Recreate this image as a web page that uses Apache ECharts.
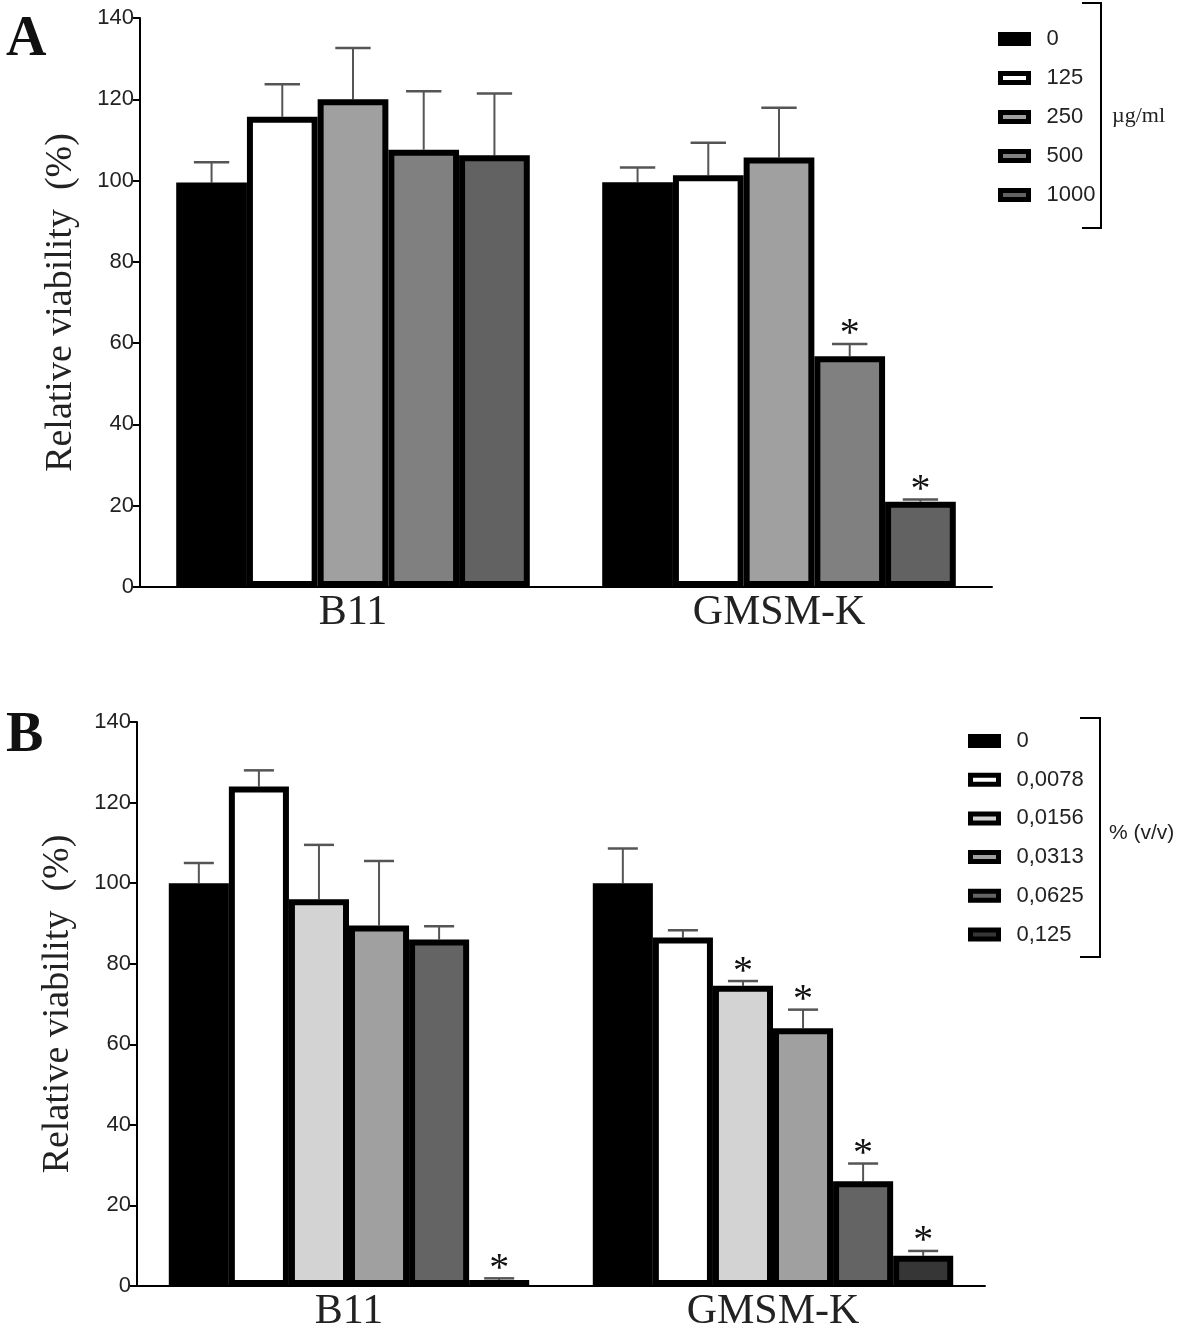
<!DOCTYPE html>
<html>
<head>
<meta charset="utf-8">
<script src="https://cdn.jsdelivr.net/npm/echarts@6/dist/echarts.min.js"></script>
<style>
html,body{margin:0;padding:0;background:#fff;}
#c{width:1181px;height:1334px;}
</style>
</head>
<body>
<div id="c"></div>
<script>
// ---------- DATA ----------
const categories = ['B11', 'GMSM-K'];
const yTicks = [0, 20, 40, 60, 80, 100, 120, 140];

// Panel A (µg/ml)
const namesA = ['0', '125', '250', '500', '1000'];
const colorsA = ['#000000', '#ffffff', '#a0a0a0', '#808080', '#626262'];
// values[seriesIndex] = [B11, GMSM-K]
const valuesA = [
  [99.5, 99.6],
  [115.7, 101.3],
  [120, 105.7],
  [107.6, 56.8],
  [106.2, 21]
];
const errorsA = [
  [5, 3.6],
  [8, 8],
  [12.6, 12.2],
  [14.4, 3],
  [15.2, 0.5]
];
const starsA = [
  [false, false],
  [false, false],
  [false, false],
  [false, true],
  [false, true]
];

// Panel B (% v/v)
const namesB = ['0', '0,0078', '0,0156', '0,0313', '0,0625', '0,125'];
const colorsB = ['#000000', '#ffffff', '#d3d3d3', '#a0a0a0', '#646464', '#363636'];
const valuesB = [
  [100, 100],
  [124, 86.5],
  [96, 74.5],
  [89.5, 64],
  [86, 26],
  [1.5, 7.5]
];
const errorsB = [
  [5, 8.6],
  [4, 1.8],
  [13.5, 1.2],
  [16, 4.6],
  [3.3, 4.4],
  [0.4, 1.2]
];
const starsB = [
  [false, false],
  [false, false],
  [false, true],
  [false, true],
  [false, true],
  [true, true]
];

// ---------- CHART ----------
const SERIF = 'Liberation Serif';
const SANS = 'Liberation Sans';
const gapA = 0.17, gapB = 0.15;

function makeBars(names, colors, values, axisIdx, gap) {
  return names.map((n, i) => ({
    name: n,
    type: 'bar',
    xAxisIndex: axisIdx,
    yAxisIndex: axisIdx,
    barGap: '0%',
    barCategoryGap: (gap * 100) + '%',
    z: 3,
    itemStyle: { color: colors[i], borderColor: '#000', borderWidth: 6 },
    emphasis: { disabled: true },
    data: values[i]
  }));
}

function makeErr(values, errors, stars, axisIdx, gap) {
  const n = values.length;
  const rows = [];
  values.forEach((vals, s) => {
    vals.forEach((v, c) => {
      rows.push([c, s, v, errors[s][c], stars[s][c] ? 1 : 0]);
    });
  });
  return {
    type: 'custom',
    xAxisIndex: axisIdx,
    yAxisIndex: axisIdx,
    z: 2,
    silent: true,
    encode: { x: 0, y: 2 },
    data: rows,
    renderItem: function (params, api) {
      const c = api.value(0), s = api.value(1), v = api.value(2), e = api.value(3), st = api.value(4);
      const center = api.coord([c, v]);
      const band = api.size([1, 0])[0];
      const barW = band * (1 - gap) / n;
      const x = center[0] + (s - (n - 1) / 2) * barW;
      const yTop = center[1];
      const yCap = api.coord([c, v + e])[1];
      const half = barW * 0.25;
      const children = [
        { type: 'line', shape: { x1: x, y1: yTop, x2: x, y2: yCap }, style: { stroke: '#555', lineWidth: 2 } },
        { type: 'line', shape: { x1: x - half, y1: yCap, x2: x + half, y2: yCap }, style: { stroke: '#555', lineWidth: 2.5 } }
      ];
      if (st) {
        children.push({
          type: 'text',
          style: { text: '*', x: x, y: yCap - 9, align: 'center', verticalAlign: 'middle',
                   font: '40px "' + SERIF + '"', fill: '#111' }
        });
      }
      return { type: 'group', children: children };
    }
  };
}

function xAxis(gridIdx) {
  return {
    type: 'category', gridIndex: gridIdx, data: categories,
    axisLine: { lineStyle: { color: '#000', width: 2 } },
    axisTick: { alignWithLabel: true, length: 8, lineStyle: { color: '#000', width: 2 } },
    axisLabel: { fontFamily: SERIF, fontSize: 42, color: '#222', margin: 5 }
  };
}
function yAxis(gridIdx) {
  return {
    type: 'value', gridIndex: gridIdx, min: yTicks[0], max: yTicks[yTicks.length - 1], interval: 20,
    name: 'Relative viability  (%)', nameLocation: 'middle', nameGap: 60,
    nameTextStyle: { fontFamily: SERIF, fontSize: 38, color: '#222' },
    axisLine: { show: true, lineStyle: { color: '#000', width: 2 } },
    axisTick: { show: true, length: 7, lineStyle: { color: '#000', width: 2 } },
    axisLabel: { fontFamily: SANS, fontSize: 22, color: '#222', margin: 6 },
    splitLine: { show: false }
  };
}

const legendCommon = {
  orient: 'vertical', icon: 'rect', itemWidth: 28, itemHeight: 9, padding: 0,
  itemStyle: { borderWidth: 5, borderColor: '#000' },
  textStyle: { fontFamily: SANS, fontSize: 22, color: '#222', padding: [0, 0, 0, 13], lineHeight: 22 },
  selectedMode: false
};

const option = {
  animation: false,
  backgroundColor: '#fff',
  grid: [
    { left: 140, top: 18, width: 852, height: 569 },
    { left: 137, top: 722, width: 848, height: 564 }
  ],
  xAxis: [xAxis(0), xAxis(1)],
  yAxis: [yAxis(0), yAxis(1)],
  legend: [
    Object.assign({}, legendCommon, { data: namesA, left: 998, top: 28, itemGap: 17 }),
    Object.assign({}, legendCommon, { data: namesB, left: 968, top: 730, itemGap: 16.7 })
  ],
  series: [].concat(
    makeBars(namesA, colorsA, valuesA, 0, gapA),
    [makeErr(valuesA, errorsA, starsA, 0, gapA)],
    makeBars(namesB, colorsB, valuesB, 1, gapB),
    [makeErr(valuesB, errorsB, starsB, 1, gapB)]
  ),
  graphic: [
    { type: 'text', left: 6, top: 13, style: { text: 'A', font: 'bold 56px "' + SERIF + '"', fill: '#111' } },
    { type: 'text', left: 6, top: 709, style: { text: 'B', font: 'bold 56px "' + SERIF + '"', fill: '#111' } },
    { type: 'polyline', shape: { points: [[1082, 3], [1101, 3], [1101, 228], [1082, 228]] }, style: { stroke: '#000', lineWidth: 2, fill: null } },
    { type: 'text', x: 1112, y: 116, style: { text: 'µg/ml', font: '22px "' + SERIF + '"', fill: '#222', verticalAlign: 'middle' } },
    { type: 'polyline', shape: { points: [[1080, 718], [1100, 718], [1100, 957], [1080, 957]] }, style: { stroke: '#000', lineWidth: 2, fill: null } },
    { type: 'text', x: 1109, y: 833, style: { text: '% (v/v)', font: '21px "' + SANS + '"', fill: '#222', verticalAlign: 'middle' } }
  ]
};

const chart = echarts.init(document.getElementById('c'), null, { renderer: 'canvas' });
chart.setOption(option);
</script>
</body>
</html>
